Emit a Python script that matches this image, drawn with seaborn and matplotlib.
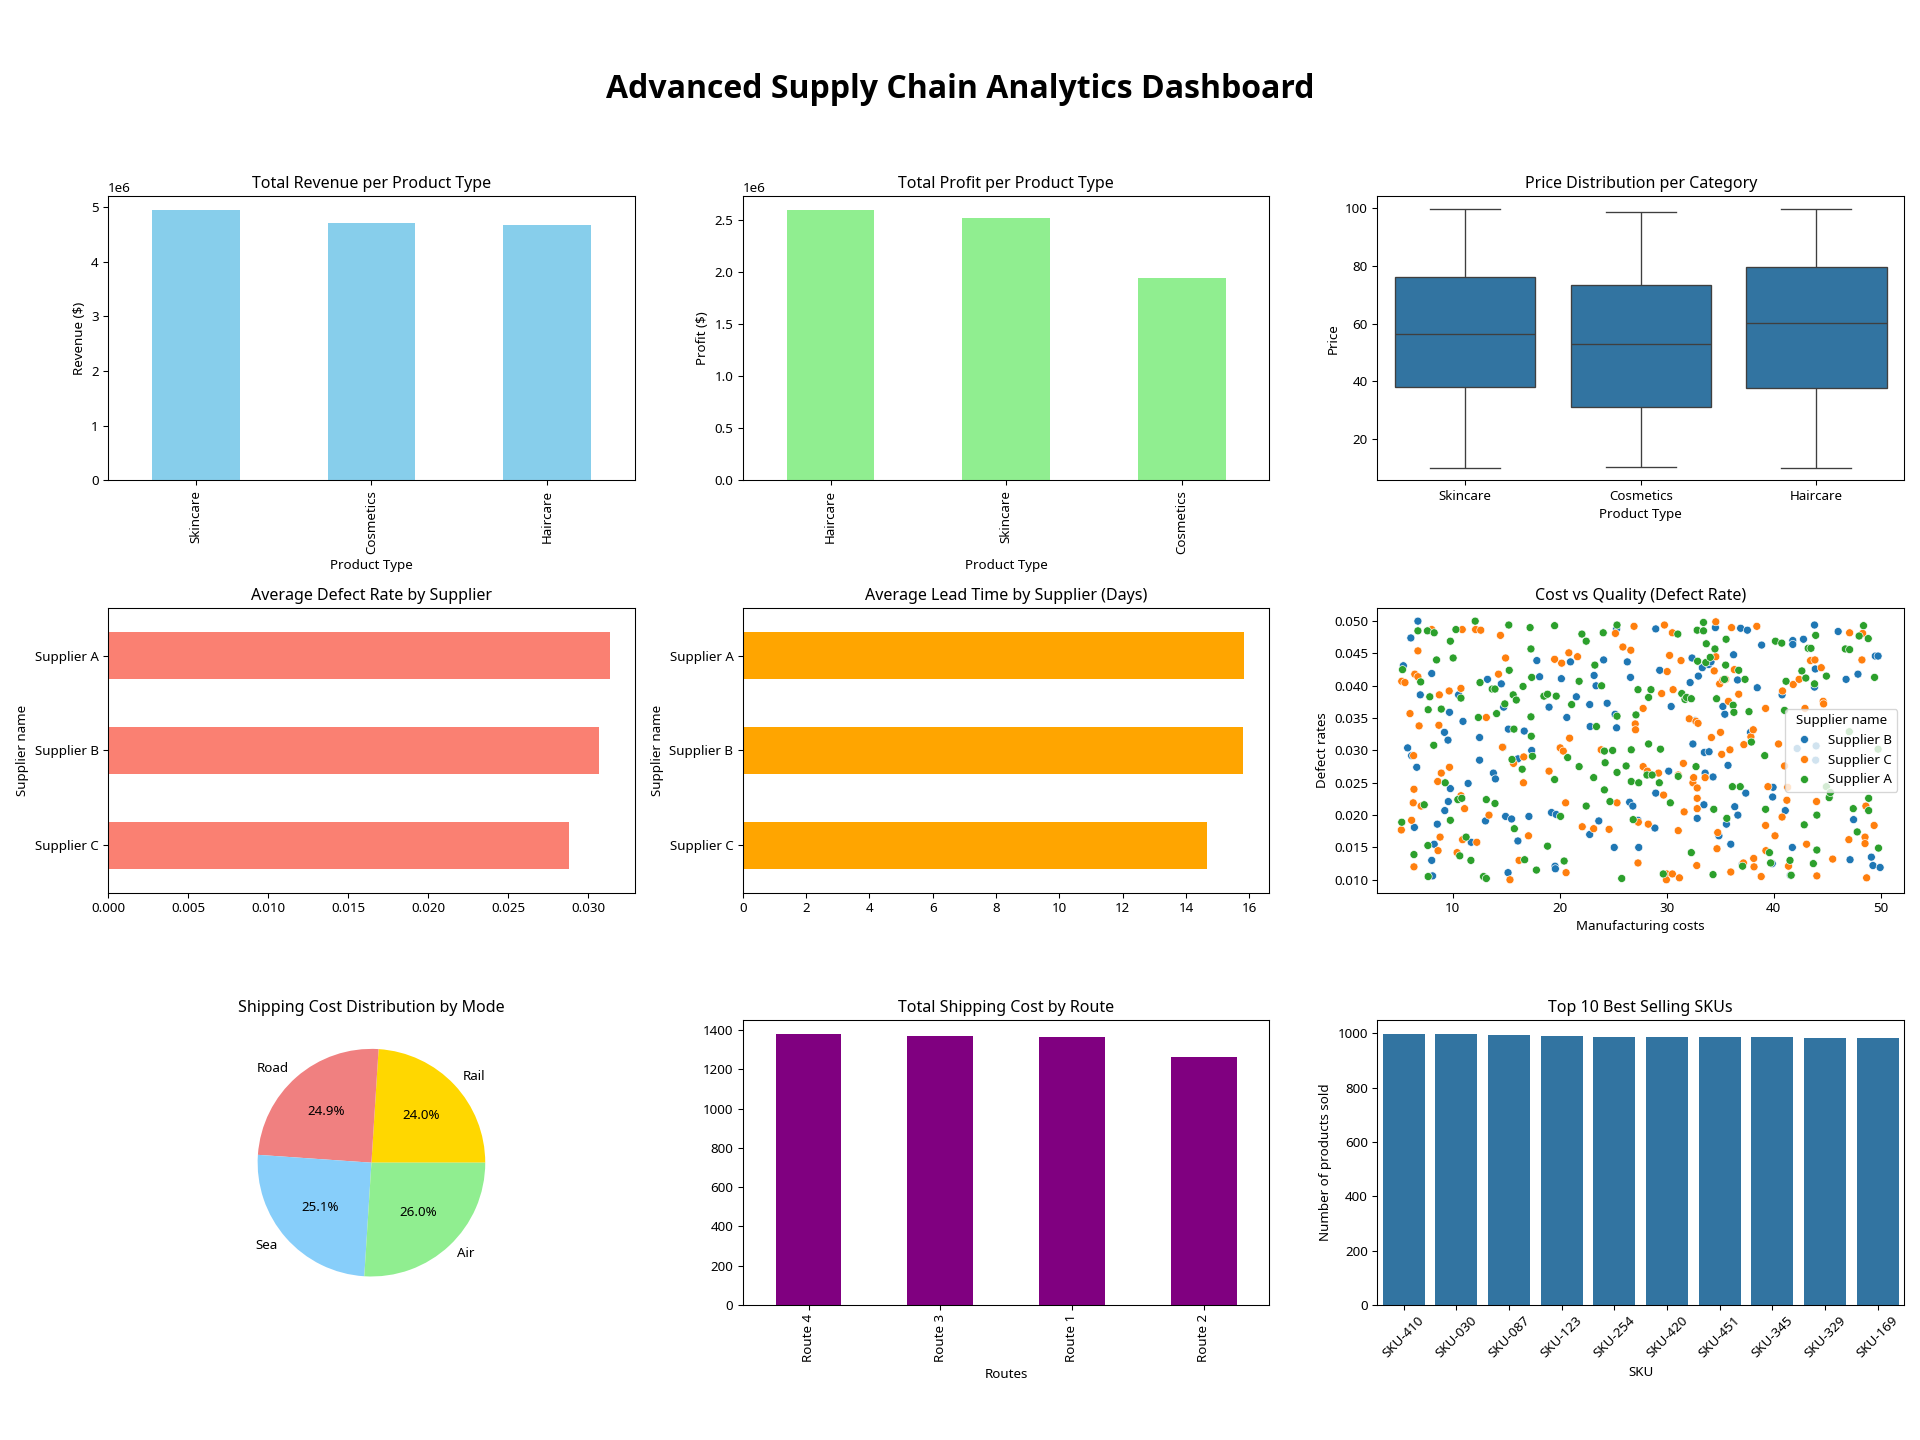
import pandas as pd
import matplotlib.pyplot as plt
import seaborn as sns

plt.rcParams['font.family'] = ['Noto Sans', 'DejaVu Sans']

# Revenue / profit per product type
product_types = ['Skincare', 'Cosmetics', 'Haircare']
revenue = [4.95e6, 4.71e6, 4.67e6]
profit_types = ['Haircare', 'Skincare', 'Cosmetics']
profit = [2.60e6, 2.52e6, 1.945e6]

# Price per category (min, q1, median, q3, max)
price_skincare = [10.1, 38.0, 56.2, 76.1, 99.7]
price_cosmetics = [10.4, 31.0, 52.9, 73.5, 98.7]
price_haircare = [10.1, 37.6, 60.2, 79.7, 99.7]

# Supplier averages
suppliers = ['Supplier C', 'Supplier B', 'Supplier A']
defect_avg = [0.02881, 0.03067, 0.03135]
lead_avg = [14.66, 15.79, 15.84]

# Cost vs defect rate
b_cost = [5.39, 6.09, 5.79, 6.16, 6.64, 6.75, 6.97, 6.42, 8.04, 8.56, 8.27, 8.12, 8.04, 9.70, 9.23,
          9.56, 9.78, 9.59, 9.26, 10.55, 10.96, 11.44, 11.73, 12.51, 12.51, 13.06, 13.25, 13.80, 13.99,
          14.54, 14.69, 14.76, 14.94, 15.50, 15.20, 15.17, 16.09, 16.09, 16.68, 17.12, 17.38, 17.86,
          18.12, 19.00, 19.23, 19.67, 19.56, 19.59, 20.15, 20.66, 21.00, 21.55, 22.80, 22.80, 22.84,
          23.21, 23.39, 23.65, 24.10, 24.43, 25.09, 25.31, 25.17, 25.31, 26.31, 26.53, 26.83, 26.61,
          27.31, 27.38, 28.89, 28.97, 28.97, 29.34, 30.18, 30.41, 32.18, 32.36, 32.44, 32.66, 32.84,
          32.95, 33.32, 33.51, 33.95, 33.91, 34.13, 33.58, 33.47, 34.32, 34.54, 34.87, 35.24, 35.42,
          35.57, 35.72, 35.98, 36.24, 36.35, 36.61, 36.64, 36.90, 37.05, 37.38, 37.53, 37.82, 38.45,
          38.86, 39.85, 39.93, 39.89, 40.77, 41.07, 41.55, 41.73, 41.77, 41.77, 42.18, 42.77, 43.80,
          43.87, 43.80, 43.95, 43.91, 46.01, 46.75, 47.12, 47.45, 47.86, 49.11, 49.26, 49.48, 49.74,
          49.93]
b_defect = [0.0431, 0.0474, 0.0304, 0.0292, 0.0274, 0.0500, 0.0386, 0.0181, 0.0419, 0.0186, 0.0155,
            0.0106, 0.0130, 0.0359, 0.0328, 0.0316, 0.0241, 0.0221, 0.0207, 0.0386, 0.0345, 0.0249,
            0.0158, 0.0320, 0.0285, 0.0191, 0.0410, 0.0265, 0.0256, 0.0403, 0.0305, 0.0367, 0.0198,
            0.0194, 0.0333, 0.0111, 0.0160, 0.0287, 0.0330, 0.0198, 0.0300, 0.0439, 0.0414, 0.0367,
            0.0204, 0.0201, 0.0121, 0.0117, 0.0411, 0.0351, 0.0437, 0.0383, 0.0371, 0.0170, 0.0337,
            0.0416, 0.0400, 0.0191, 0.0440, 0.0373, 0.0150, 0.0488, 0.0356, 0.0335, 0.0437, 0.0220,
            0.0214, 0.0413, 0.0192, 0.0150, 0.0180, 0.0488, 0.0234, 0.0424, 0.0268, 0.0368, 0.0405,
            0.0443, 0.0310, 0.0346, 0.0195, 0.0415, 0.0428, 0.0297, 0.0298, 0.0433, 0.0437, 0.0265,
            0.0216, 0.0259, 0.0490, 0.0168, 0.0368, 0.0356, 0.0186, 0.0277, 0.0155, 0.0448, 0.0213,
            0.0409, 0.0200, 0.0489, 0.0124, 0.0234, 0.0486, 0.0328, 0.0397, 0.0463, 0.0125, 0.0243,
            0.0228, 0.0386, 0.0207, 0.0107, 0.0150, 0.0470, 0.0464, 0.0303, 0.0472, 0.0494, 0.0426,
            0.0398, 0.0307, 0.0285, 0.0484, 0.0410, 0.0131, 0.0193, 0.0418, 0.0135, 0.0122, 0.0446,
            0.0446, 0.0119]

c_cost = [5.24, 5.54, 5.20, 6.35, 6.01, 6.86, 6.75, 6.46, 6.75, 6.38, 6.31, 6.16, 6.38, 7.05, 8.04,
          8.75, 8.71, 8.93, 8.60, 8.82, 8.63, 9.67, 9.70, 10.89, 10.77, 10.77, 11.11, 10.92, 10.41,
          12.25, 12.14, 12.62, 13.14, 13.39, 14.28, 14.46, 14.65, 14.94, 15.68, 15.35, 16.20, 16.61,
          16.64, 17.08, 19.00, 19.52, 20.04, 20.18, 20.33, 20.55, 20.59, 20.85, 20.92, 21.66, 22.10,
          23.17, 23.87, 24.61, 25.20, 25.35, 25.90, 26.64, 26.94, 27.05, 27.08, 27.34, 27.31, 27.79,
          27.79, 28.19, 28.27, 29.23, 29.52, 29.70, 29.78, 30.00, 29.96, 30.04, 30.26, 30.52, 30.59,
          30.52, 31.07, 31.07, 31.18, 31.33, 31.55, 31.62, 32.10, 32.44, 32.51, 32.73, 32.80, 32.92,
          32.84, 32.84, 32.84, 33.58, 34.17, 34.58, 34.43, 34.58, 34.69, 34.76, 34.94, 35.02, 35.13,
          35.24, 35.50, 35.76, 35.90, 35.98, 36.05, 36.31, 36.72, 37.16, 37.20, 37.86, 38.08, 38.12,
          38.15, 38.41, 38.82, 39.23, 39.23, 39.26, 39.45, 40.11, 40.44, 40.77, 40.81, 41.00, 41.22,
          41.29, 41.37, 41.81, 42.36, 42.91, 43.06, 43.43, 43.84, 43.99, 44.02, 44.43, 44.61, 44.65,
          45.50, 47.01, 47.08, 48.23, 48.30, 48.52, 48.52, 48.60, 48.67, 49.37]
c_defect = [0.0407, 0.0405, 0.0177, 0.0292, 0.0357, 0.0338, 0.0454, 0.0418, 0.0414, 0.0240, 0.0219,
            0.0192, 0.0120, 0.0214, 0.0487, 0.0386, 0.0339, 0.0265, 0.0252, 0.0166, 0.0145, 0.0392,
            0.0274, 0.0487, 0.0396, 0.0230, 0.0210, 0.0162, 0.0142, 0.0158, 0.0487, 0.0486, 0.0351,
            0.0200, 0.0418, 0.0478, 0.0305, 0.0443, 0.0280, 0.0100, 0.0130, 0.0250, 0.0290, 0.0168,
            0.0268, 0.0441, 0.0304, 0.0435, 0.0299, 0.0219, 0.0111, 0.0451, 0.0319, 0.0445, 0.0182,
            0.0179, 0.0301, 0.0178, 0.0481, 0.0219, 0.0460, 0.0455, 0.0492, 0.0341, 0.0332, 0.0189,
            0.0126, 0.0365, 0.0275, 0.0268, 0.0186, 0.0265, 0.0388, 0.0231, 0.0494, 0.0109, 0.0100,
            0.0422, 0.0447, 0.0109, 0.0394, 0.0482, 0.0176, 0.0262, 0.0103, 0.0439, 0.0280, 0.0205,
            0.0349, 0.0250, 0.0258, 0.0345, 0.0122, 0.0342, 0.0226, 0.0242, 0.0210, 0.0258, 0.0320,
            0.0499, 0.0423, 0.0445, 0.0148, 0.0173, 0.0403, 0.0328, 0.0294, 0.0409, 0.0410, 0.0376,
            0.0301, 0.0112, 0.0490, 0.0425, 0.0387, 0.0126, 0.0309, 0.0321, 0.0332, 0.0133, 0.0120,
            0.0492, 0.0105, 0.0365, 0.0184, 0.0145, 0.0244, 0.0168, 0.0310, 0.0197, 0.0392, 0.0276,
            0.0223, 0.0243, 0.0121, 0.0402, 0.0410, 0.0365, 0.0155, 0.0439, 0.0440, 0.0221, 0.0106,
            0.0428, 0.0376, 0.0372, 0.0132, 0.0162, 0.0482, 0.0440, 0.0481, 0.0166, 0.0156, 0.0214,
            0.0103, 0.0184]

a_cost = [5.31, 5.24, 6.38, 6.75, 7.01, 7.34, 7.64, 8.27, 8.49, 7.86, 7.71, 8.23, 8.93, 9.30, 7.68,
          7.71, 9.78, 10.04, 9.78, 10.30, 10.77, 10.48, 10.85, 11.25, 10.66, 11.70, 12.10, 12.55,
          12.40, 13.14, 12.88, 13.14, 13.69, 13.95, 13.95, 14.10, 14.87, 15.28, 15.24, 15.54, 15.72,
          15.65, 15.94, 15.76, 16.72, 16.49, 16.57, 17.23, 17.31, 17.38, 17.31, 17.34, 17.45, 17.82,
          18.52, 18.86, 18.86, 19.52, 19.67, 19.52, 20.07, 20.41, 20.74, 21.11, 21.81, 21.81, 22.07,
          22.47, 22.47, 23.28, 23.17, 23.43, 23.91, 24.17, 24.17, 24.24, 24.06, 24.69, 24.94, 25.35,
          25.35, 25.35, 25.79, 26.20, 26.68, 26.68, 26.86, 27.12, 27.31, 27.38, 28.15, 28.30, 28.30,
          28.52, 28.63, 29.30, 29.41, 29.67, 30.33, 31.03, 31.07, 31.40, 31.70, 31.85, 32.29, 32.29,
          32.73, 32.84, 32.88, 33.43, 33.43, 33.65, 33.69, 34.06, 34.39, 34.32, 34.50, 34.65, 35.39,
          35.50, 35.54, 35.61, 36.13, 36.20, 36.27, 36.72, 36.86, 37.08, 37.31, 37.68, 37.90, 39.15,
          39.23, 39.59, 39.70, 40.15, 40.74, 41.00, 41.14, 41.51, 41.62, 42.62, 42.84, 42.99, 43.21,
          43.47, 43.69, 43.80, 43.91, 44.02, 44.02, 44.91, 44.91, 45.17, 45.28, 46.68, 47.05, 47.08,
          47.42, 47.79, 47.97, 48.38, 48.82, 48.86, 48.86, 49.41, 49.78, 49.74]
a_defect = [0.0425, 0.0189, 0.0139, 0.0485, 0.0406, 0.0216, 0.0485, 0.0482, 0.0440, 0.0383, 0.0363,
            0.0308, 0.0364, 0.0250, 0.0153, 0.0105, 0.0469, 0.0443, 0.0192, 0.0487, 0.0381, 0.0224,
            0.0226, 0.0166, 0.0137, 0.0130, 0.0500, 0.0405, 0.0351, 0.0224, 0.0105, 0.0102, 0.0395,
            0.0395, 0.0218, 0.0357, 0.0372, 0.0424, 0.0494, 0.0286, 0.0333, 0.0386, 0.0378, 0.0179,
            0.0131, 0.0271, 0.0399, 0.0490, 0.0457, 0.0413, 0.0352, 0.0322, 0.0291, 0.0115, 0.0384,
            0.0387, 0.0152, 0.0493, 0.0384, 0.0255, 0.0198, 0.0129, 0.0289, 0.0371, 0.0275, 0.0407,
            0.0480, 0.0469, 0.0214, 0.0432, 0.0258, 0.0337, 0.0400, 0.0299, 0.0239, 0.0281, 0.0482,
            0.0221, 0.0300, 0.0353, 0.0266, 0.0494, 0.0102, 0.0276, 0.0301, 0.0252, 0.0193, 0.0355,
            0.0394, 0.0250, 0.0262, 0.0382, 0.0310, 0.0394, 0.0262, 0.0250, 0.0302, 0.0109, 0.0219,
            0.0480, 0.0260, 0.0388, 0.0379, 0.0382, 0.0380, 0.0142, 0.0275, 0.0486, 0.0438, 0.0485,
            0.0498, 0.0436, 0.0465, 0.0444, 0.0209, 0.0108, 0.0457, 0.0380, 0.0410, 0.0432, 0.0472,
            0.0195, 0.0244, 0.0370, 0.0359, 0.0424, 0.0244, 0.0121, 0.0410, 0.0360, 0.0313, 0.0292,
            0.0209, 0.0142, 0.0126, 0.0469, 0.0466, 0.0362, 0.0407, 0.0130, 0.0107, 0.0423, 0.0185,
            0.0412, 0.0458, 0.0458, 0.0125, 0.0403, 0.0478, 0.0200, 0.0146, 0.0415, 0.0244, 0.0227,
            0.0235, 0.0457, 0.0329, 0.0456, 0.0210, 0.0174, 0.0477, 0.0493, 0.0473, 0.0226, 0.0207,
            0.0413, 0.0149, 0.0302]

# Shipping
modes = ['Rail', 'Road', 'Sea', 'Air']
mode_share = [24.0, 24.9, 25.1, 26.0]
routes = ['Route 4', 'Route 3', 'Route 1', 'Route 2']
route_cost = [1381, 1371, 1365, 1263]

# Top SKUs
skus = ['SKU-410', 'SKU-030', 'SKU-087', 'SKU-123', 'SKU-254',
        'SKU-420', 'SKU-451', 'SKU-345', 'SKU-329', 'SKU-169']
sold = [998, 997, 994, 991, 987, 987, 986, 986, 983, 982]

price_df = pd.DataFrame({
    'Product Type': ['Skincare'] * 5 + ['Cosmetics'] * 5 + ['Haircare'] * 5,
    'Price': price_skincare + price_cosmetics + price_haircare,
})
scatter_df = pd.concat([
    pd.DataFrame({'Manufacturing costs': b_cost, 'Defect rates': b_defect, 'Supplier name': 'Supplier B'}),
    pd.DataFrame({'Manufacturing costs': c_cost, 'Defect rates': c_defect, 'Supplier name': 'Supplier C'}),
    pd.DataFrame({'Manufacturing costs': a_cost, 'Defect rates': a_defect, 'Supplier name': 'Supplier A'}),
], ignore_index=True)
sku_df = pd.DataFrame({'SKU': skus, 'Number of products sold': sold})

fig, axes = plt.subplots(3, 3, figsize=(20, 15), dpi=96)
fig.subplots_adjust(left=0.0563, right=0.9917, top=0.8639, bottom=0.0938, wspace=0.205, hspace=0.449)
fig.suptitle('Advanced Supply Chain Analytics Dashboard', fontsize=24, fontweight='bold',
             family=['Open Sans', 'DejaVu Sans'], y=0.938, va='center')

# 1. Revenue
pd.Series(revenue, index=pd.Index(product_types, name='Product Type')).plot(kind='bar', color='skyblue', ax=axes[0, 0])
axes[0, 0].set_title('Total Revenue per Product Type')
axes[0, 0].set_ylabel('Revenue ($)')

# 2. Profit
pd.Series(profit, index=pd.Index(profit_types, name='Product Type')).plot(kind='bar', color='lightgreen', ax=axes[0, 1])
axes[0, 1].set_title('Total Profit per Product Type')
axes[0, 1].set_ylabel('Profit ($)')

# 3. Price boxplot
sns.boxplot(data=price_df, x='Product Type', y='Price', ax=axes[0, 2])
axes[0, 2].set_title('Price Distribution per Category')

# 4. Defect rate
pd.Series(defect_avg, index=pd.Index(suppliers, name='Supplier name')).plot(kind='barh', color='salmon', ax=axes[1, 0])
axes[1, 0].set_title('Average Defect Rate by Supplier')

# 5. Lead time
pd.Series(lead_avg, index=pd.Index(suppliers, name='Supplier name')).plot(kind='barh', color='orange', ax=axes[1, 1])
axes[1, 1].set_title('Average Lead Time by Supplier (Days)')

# 6. Cost vs quality
sns.scatterplot(data=scatter_df, x='Manufacturing costs', y='Defect rates', hue='Supplier name', ax=axes[1, 2])
axes[1, 2].set_title('Cost vs Quality (Defect Rate)')
axes[1, 2].legend(title='Supplier name', loc='center right')

# 7. Shipping cost by mode
axes[2, 0].pie(mode_share, labels=modes, autopct='%1.1f%%',
               colors=['gold', 'lightcoral', 'lightskyblue', 'lightgreen'])
axes[2, 0].set_title('Shipping Cost Distribution by Mode')

# 8. Shipping cost by route
pd.Series(route_cost, index=pd.Index(routes, name='Routes')).plot(kind='bar', color='purple', ax=axes[2, 1])
axes[2, 1].set_title('Total Shipping Cost by Route')

# 9. Top SKUs
sns.barplot(data=sku_df, x='SKU', y='Number of products sold', ax=axes[2, 2])
axes[2, 2].set_title('Top 10 Best Selling SKUs')
axes[2, 2].tick_params(axis='x', rotation=45)

fig.savefig('out.png', dpi=96)
